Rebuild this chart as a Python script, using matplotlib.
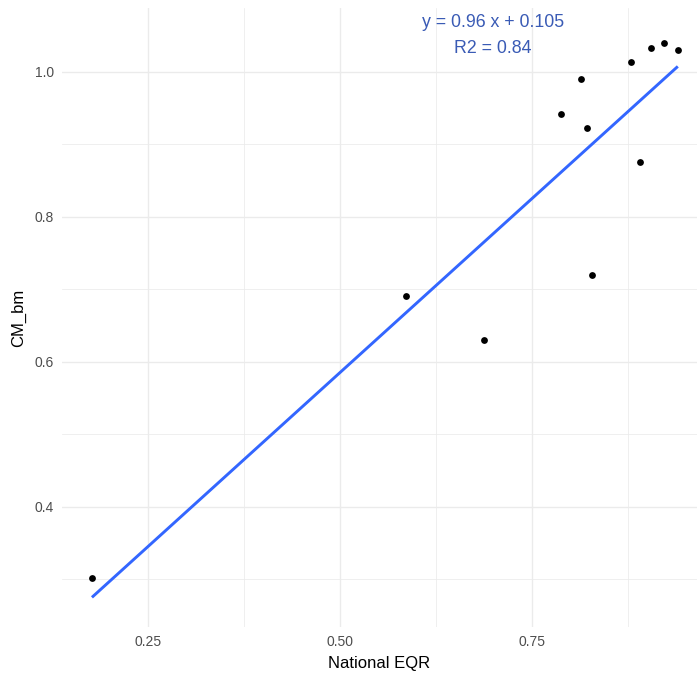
import matplotlib
matplotlib.use("Agg")
import matplotlib.pyplot as plt
import numpy as np

# Data
national_eqr = [0.177, 0.586, 0.6875, 0.788, 0.814, 0.822, 0.828, 0.879, 0.891, 0.905, 0.922, 0.940]
cm_bm = [0.301, 0.690, 0.630, 0.942, 0.990, 0.923, 0.720, 1.014, 0.876, 1.033, 1.040, 1.030]
fit_slope = 0.96
fit_intercept = 0.105
fit_r2 = 0.84
eq_label = "y = 0.96 x + 0.105"
r2_label = "R2 = 0.84"
x_ticks = [0.25, 0.50, 0.75]
x_ticklabels = ["0.25", "0.50", "0.75"]
y_ticks = [0.4, 0.6, 0.8, 1.0]
y_ticklabels = ["0.4", "0.6", "0.8", "1.0"]

plt.rcParams['font.family'] = ['Liberation Sans', 'DejaVu Sans']

fig = plt.figure(figsize=(6.97, 6.75), dpi=100)
ax = fig.add_axes([62/697, 48/675, 635/697, 619/675])

ax.set_xlim(0.138, 0.965)
ax.set_ylim(0.234, 1.088)

# grid
for xm in [0.375, 0.625, 0.875]:
    ax.axvline(xm, color="#EBEBEB", lw=0.55, zorder=0)
for ym in [0.3, 0.5, 0.7, 0.9]:
    ax.axhline(ym, color="#EBEBEB", lw=0.55, zorder=0)
ax.set_xticks(x_ticks)
ax.set_xticklabels(x_ticklabels)
ax.set_yticks(y_ticks)
ax.set_yticklabels(y_ticklabels)
ax.grid(True, which="major", color="#EBEBEB", lw=1.0, zorder=0)
ax.set_axisbelow(True)

for s in ax.spines.values():
    s.set_visible(False)
ax.tick_params(length=0, labelsize=10, colors="#4D4D4D", pad=6)

# regression line
xs = np.array([min(national_eqr), max(national_eqr)])
ax.plot(xs, fit_slope * xs + fit_intercept, color="#3366FF", lw=2.1, zorder=2, solid_capstyle="butt")

ax.scatter(national_eqr, cm_bm, s=24, color="black", zorder=3, linewidths=0)

ax.text(0.6995, 1.068, eq_label, ha="center", va="center", fontsize=12.8, color="#3A5BB5")
ax.text(0.6995, 1.032, r2_label, ha="center", va="center", fontsize=12.8, color="#3A5BB5")

ax.set_xlabel("National EQR", fontsize=12, color="black", labelpad=5)
ax.set_ylabel("CM_bm", fontsize=12, color="black", labelpad=6)

fig.savefig("out.png", dpi=100, facecolor="white")
